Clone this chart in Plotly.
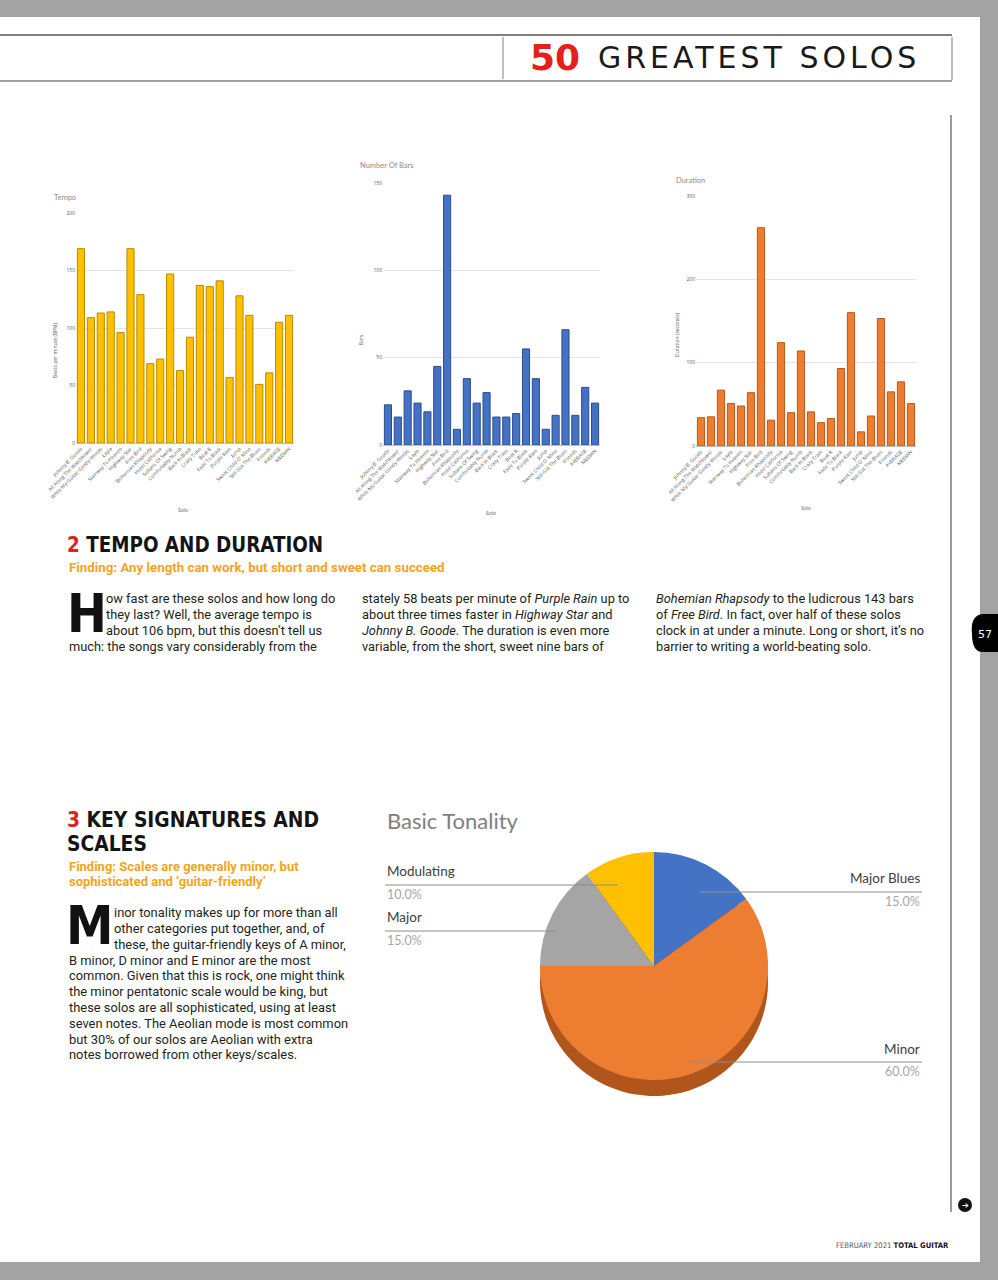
import plotly.graph_objects as go

W, H = 998, 1280

# ---------------- data ----------------
solos = ["Johnny B. Goode", "All Along The Watchtower", "While My Guitar Gently Weeps",
         "Layla", "Stairway To Heaven", "Highway Star", "Free Bird", "Bohemian Rhapsody",
         "Hotel California", "Sultans Of Swing", "Comfortably Numb", "Back In Black",
         "Crazy Train", "Beat It", "Fade To Black", "Purple Rain", "Jump",
         "Sweet Child O' Mine", "Still Got The Blues", "Friends", "AVERAGE", "MEDIAN"]
tempo_bpm = [169, 109, 113, 114, 96, 169, 129, 69, 73, 147, 63, 92, 137, 136, 141, 57,
             128, 111, 51, 61, 105, 111]
num_bars = [23, 16, 31, 24, 19, 45, 143, 9, 38, 24, 30, 16, 16, 18, 55, 38, 9, 17, 66,
            17, 33, 24]
duration_s = [34, 35, 67, 51, 48, 64, 262, 31, 124, 40, 114, 41, 28, 33, 93, 160, 17, 36,
              153, 65, 77, 51]

tonality_labels = ["Major Blues", "Minor", "Major", "Modulating"]
tonality_share = [15, 60, 15, 10]


def X(px):
    return px / W


def Y(py):
    return 1 - py / H


fig = go.Figure()
annotations = []
shapes = []


def ann(**kw):
    d = dict(xref="paper", yref="paper", showarrow=False)
    d.update(kw)
    annotations.append(d)
    return d


# ---------------- bar charts ----------------
charts = [
    dict(vals=tempo_bpm, color="#FFC000", edge="#B88A00", xd=(76, 294), yd=(213, 443),
         rng=[0, 200], dtick=50, title="Tempo", tpos=(52, 197),
         ytitle="Beats per minute (BPM)", ytpos=(55, 350), solo=(183, 510)),
    dict(vals=num_bars, color="#4472C4", edge="#2B4C8C", xd=(383, 600), yd=(183, 445),
         rng=[0, 150], dtick=50, title="Number Of Bars", tpos=(358, 166),
         ytitle="Bars", ytpos=(361, 340), solo=(491, 513)),
    dict(vals=duration_s, color="#ED7D31", edge="#B5581A", xd=(696, 916), yd=(196, 446),
         rng=[0, 300], dtick=100, title="Duration", tpos=(674, 181),
         ytitle="Duration (seconds)", ytpos=(677, 335), solo=(806, 508)),
]

layout_axes = {}
for i, c in enumerate(charts, start=1):
    sx = "" if i == 1 else str(i)
    fig.add_trace(go.Bar(x=solos, y=c["vals"], xaxis="x" + sx, yaxis="y" + sx,
                         marker=dict(color=c["color"], line=dict(color=c["edge"], width=1)),
                         width=0.72, showlegend=False, hoverinfo="skip"))
    layout_axes["xaxis" + sx] = dict(
        domain=[X(c["xd"][0]), X(c["xd"][1])], anchor="y" + sx, tickangle=-45,
        tickfont=dict(size=5, color="#595959", family="Open Sans"), showgrid=False,
        showline=True, linecolor="#bfbfbf", linewidth=1, ticks="", automargin=False,
        fixedrange=True)
    layout_axes["yaxis" + sx] = dict(
        domain=[Y(c["yd"][1]), Y(c["yd"][0])], anchor="x" + sx, range=c["rng"],
        dtick=c["dtick"], tickfont=dict(size=5, color="#595959", family="Open Sans"),
        showgrid=True, gridcolor="#e4e4e4", gridwidth=1, zeroline=False, showline=False,
        ticks="", automargin=False, fixedrange=True)
    ann(text=c["title"], x=X(c["tpos"][0]), y=Y(c["tpos"][1]), xanchor="left",
        yanchor="middle", font=dict(size=7.5, color="#8c8c8c", family="Lato"))
    ann(text=c["ytitle"], x=X(c["ytpos"][0]), y=Y(c["ytpos"][1]), xanchor="center",
        yanchor="middle", textangle=-90,
        font=dict(size=5, color="#595959", family="Open Sans"))
    ann(text="Solo", x=X(c["solo"][0]), y=Y(c["solo"][1]), xanchor="center",
        yanchor="middle", font=dict(size=5, color="#595959", family="Open Sans"))

# ---------------- pie chart ----------------
cx, cy, r, depth = 654, 966, 114, 16
fig.add_trace(go.Pie(values=tonality_share, labels=tonality_labels, sort=False,
                     direction="clockwise", rotation=0, textinfo="none",
                     marker=dict(colors=["#B0561C"] * len(tonality_share)),
                     domain=dict(x=[X(cx - r), X(cx + r)],
                                 y=[Y(cy + depth + r), Y(cy + depth - r)]),
                     showlegend=False, hoverinfo="skip"))
fig.add_trace(go.Pie(values=tonality_share, labels=tonality_labels, sort=False,
                     direction="clockwise", rotation=0, textinfo="none",
                     marker=dict(colors=["#4472C4", "#ED7D31", "#A5A5A5", "#FFC000"]),
                     domain=dict(x=[X(cx - r), X(cx + r)], y=[Y(cy + r), Y(cy - r)]),
                     showlegend=False, hoverinfo="skip"))

ann(text="Basic Tonality", x=X(385), y=Y(820), xanchor="left", yanchor="middle",
    font=dict(size=22, color="#7f7f7f", family="Lato"))

total = sum(tonality_share)
pct = {lab: f"{v / total * 100:.1f}%" for lab, v in zip(tonality_labels, tonality_share)}
# (label, anchor x, side, name y, line y, line from x, line to x, pct y)
pie_labels = [
    ("Modulating", 385, "left", 871, 885, 385, 618, 894),
    ("Major", 385, "left", 917, 931, 385, 556, 940),
    ("Major Blues", 922, "right", 878, 892, 700, 922, 901),
    ("Minor", 922, "right", 1049, 1062, 690, 922, 1071),
]
for lab, ax, anc, ny, ly, lx0, lx1, py in pie_labels:
    ann(text=lab, x=X(ax), y=Y(ny), xanchor=anc, yanchor="middle",
        font=dict(size=13.5, color="#404040", family="Lato"))
    ann(text=pct[lab], x=X(ax), y=Y(py), xanchor=anc, yanchor="middle",
        font=dict(size=12.5, color="#a6a6a6", family="Lato"))
    shapes.append(dict(type="line", xref="paper", yref="paper", x0=X(lx0), x1=X(lx1),
                       y0=Y(ly), y1=Y(ly), line=dict(color="#8c8c8c", width=1)))

# ---------------- page text ----------------
BODY = "Roboto"
HEAD = "DejaVu Sans"


def txt(text, x, y, size=12.8, color="#231f20", family=BODY, anchor="left", weight=None):
    f = dict(size=size, color=color, family=family)
    if weight:
        f["weight"] = weight
    ann(text=text, x=X(x), y=Y(y), xanchor=anchor, yanchor="middle", font=f)


def cond(s):
    return f"<span style='font-stretch:condensed'>{s}</span>"


# header
txt("50", 528, 58, size=36, color="#E3211C", family="DejaVu Sans", weight=900)
txt("<span style='letter-spacing:4px'>GREATEST SOLOS</span>", 596, 58, size=30,
    color="#1a1a1a", family="DejaVu Sans")

# section 2
txt(cond("<span style='color:#E3211C'>2</span> TEMPO AND DURATION"), 65, 545, size=20.4,
    color="#141414", family=HEAD, weight=900)
txt("Finding: Any length can work, but short and sweet can succeed", 67, 567, size=13.3,
    color="#F2A51E", weight=700)

txt(cond("H"), 65, 613, size=53, color="#111111", family=HEAD, weight=900)
col1 = ["ow fast are these solos and how long do",
        "they last? Well, the average tempo is",
        "about 106 bpm, but this doesn\u2019t tell us",
        "much: the songs vary considerably from the"]
col2 = ["stately 58 beats per minute of <i>Purple Rain</i> up to",
        "about three times faster in <i>Highway Star</i> and",
        "<i>Johnny B. Goode</i>. The duration is even more",
        "variable, from the short, sweet nine bars of"]
col3 = ["<i>Bohemian Rhapsody</i> to the ludicrous 143 bars",
        "of <i>Free Bird</i>. In fact, over half of these solos",
        "clock in at under a minute. Long or short, it\u2019s no",
        "barrier to writing a world-beating solo."]
ys2 = [598, 614, 630, 646]
for i, (a, b, c) in enumerate(zip(col1, col2, col3)):
    txt(a, 104 if i < 3 else 67, ys2[i])
    txt(b, 360, ys2[i])
    txt(c, 654, ys2[i])

# section 3
txt(cond("<span style='color:#E3211C'>3</span> KEY SIGNATURES AND"), 65, 820, size=20.8,
    color="#141414", family=HEAD, weight=900)
txt(cond("SCALES"), 65, 844, size=20.8, color="#141414", family=HEAD, weight=900)
txt("Finding: Scales are generally minor, but", 67, 866, size=13, color="#F2A51E",
    weight=700)
txt("sophisticated and \u2018guitar-friendly\u2019", 67, 881, size=13, color="#F2A51E",
    weight=700)

txt(cond("M"), 64, 925, size=53, color="#111111", family=HEAD, weight=900)
sec3 = ["inor tonality makes up for more than all",
        "other categories put together, and, of",
        "these, the guitar-friendly keys of A minor,",
        "B minor, D minor and E minor are the most",
        "common. Given that this is rock, one might think",
        "the minor pentatonic scale would be king, but",
        "these solos are all sophisticated, using at least",
        "seven notes. The Aeolian mode is most common",
        "but 30% of our solos are Aeolian with extra",
        "notes borrowed from other keys/scales."]
ys3 = [912, 928, 944, 960, 975, 991, 1007, 1023, 1039, 1054]
for i, s in enumerate(sec3):
    txt(s, 112 if i < 3 else 67, ys3[i], size=12.9)

# footer
txt(cond("<span style='color:#555555'>FEBRUARY 2021</span> <b>TOTAL GUITAR</b>"), 951,
    1245, size=7.6, color="#111111", family=HEAD, anchor="right")
# page number
txt("57", 985, 634, size=11, color="#ffffff", family=HEAD, anchor="center")
# arrow icon
txt("\u2794", 965, 1205, size=8, color="#ffffff", family="DejaVu Sans", anchor="center")

# ---------------- page furniture ----------------
GRAY = "#a3a3a3"


def rect(x0, y0, x1, y1, color, layer="above"):
    shapes.append(dict(type="rect", xref="paper", yref="paper", x0=X(x0), x1=X(x1),
                       y0=Y(y1), y1=Y(y0), fillcolor=color, line=dict(width=0),
                       layer=layer))


def hline(x0, x1, y, color="#808080", width=1.5):
    shapes.append(dict(type="line", xref="paper", yref="paper", x0=X(x0), x1=X(x1),
                       y0=Y(y), y1=Y(y), line=dict(color=color, width=width)))


def vline(x, y0, y1, color="#808080", width=1.5):
    shapes.append(dict(type="line", xref="paper", yref="paper", x0=X(x), x1=X(x),
                       y0=Y(y0), y1=Y(y1), line=dict(color=color, width=width)))


rect(0, 0, W, 17, GRAY)
rect(0, 1262, W, H, GRAY)
rect(980, 0, W, H, GRAY)
hline(0, 952, 35, width=2)
hline(0, 952, 81, width=1.5)
vline(503, 37, 79, width=1)
vline(952, 37, 80, width=1)
vline(951, 115, 1212, color="#7a7a7a", width=1.5)

# page-number tab
shapes.append(dict(type="path", xref="paper", yref="paper",
                   path=(f"M {X(998)},{Y(614)} L {X(982)},{Y(614)} "
                         f"Q {X(970)},{Y(616)} {X(972)},{Y(634)} "
                         f"Q {X(972)},{Y(653)} {X(984)},{Y(652)} "
                         f"L {X(998)},{Y(652)} Z"),
                   fillcolor="#000000", line=dict(width=0), layer="above"))
# arrow circle
shapes.append(dict(type="circle", xref="paper", yref="paper", x0=X(958), x1=X(972),
                   y0=Y(1212), y1=Y(1198), fillcolor="#111111", line=dict(width=0),
                   layer="below"))

fig.update_layout(width=W, height=H, margin=dict(l=0, r=0, t=0, b=0),
                  paper_bgcolor="#ffffff", plot_bgcolor="#ffffff", bargap=0.28,
                  annotations=annotations, shapes=shapes, showlegend=False,
                  **layout_axes)

fig.write_html("out.html", config={"displayModeBar": False},
               post_script="document.body.style.margin='0px';")
